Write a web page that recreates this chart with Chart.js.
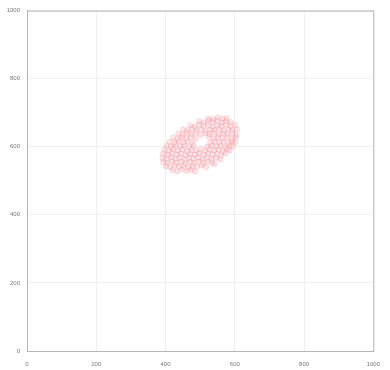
<!DOCTYPE html>
<html>
<head>
<meta charset="utf-8">
<script src="https://cdn.jsdelivr.net/npm/chart.js@4/dist/chart.umd.min.js"></script>
<style>
  html, body { margin: 0; padding: 0; background: #fff; }
  #wrap { width: 390px; height: 370px; }
</style>
</head>
<body>
<div id="wrap"><canvas id="grafico" width="390" height="370"></canvas></div>
<script>
// ticks of both axes
const tickValues = [0, 200, 400, 600, 800, 1000];

// points, row by row (x, y)
const pontosX = [
  420, 433, 447, 461, 474, 485,
  401, 414, 426, 439, 452, 466, 478, 491, 504, 517,
  393, 405, 418, 431, 444, 457, 470, 483, 496, 509, 522, 535, 541,
  391, 403, 416, 429, 442, 455, 468, 481, 494, 507, 520, 533, 546, 558,
  393, 406, 419, 432, 445, 458, 471, 484, 497, 510, 523, 536, 549, 561, 572,
  397, 410, 423, 436, 449, 462, 475, 488, 501, 514, 527, 540, 553, 566, 578, 585,
  403, 416, 429, 442, 455, 468, 481, 520, 533, 546, 559, 572, 585, 594,
  412, 425, 438, 451, 464, 477, 529, 542, 555, 568, 581, 593, 601,
  422, 435, 448, 461, 474, 487, 526, 539, 552, 565, 578, 591, 603,
  436, 449, 462, 475, 488, 501, 514, 527, 540, 553, 566, 579, 592, 604,
  451, 464, 477, 490, 503, 516, 529, 542, 555, 568, 581, 594, 606,
  471, 484, 497, 510, 523, 536, 549, 562, 575, 588, 601,
  497, 510, 523, 536, 549, 562, 575, 588,
  525, 538, 551, 564, 576
];
const pontosY = [
  531, 528, 533, 529, 532, 527,
  543, 540, 545, 541, 544, 539, 543, 541, 545, 540,
  555, 552, 557, 553, 556, 551, 555, 553, 557, 552, 556, 553, 549,
  567, 564, 569, 565, 568, 563, 567, 565, 569, 564, 568, 565, 567, 563,
  579, 576, 581, 577, 580, 575, 579, 577, 581, 576, 580, 577, 579, 575, 580,
  591, 588, 593, 589, 592, 587, 591, 589, 593, 588, 592, 589, 591, 587, 592, 589,
  603, 600, 605, 601, 604, 599, 603, 600, 604, 601, 603, 599, 604, 601,
  615, 612, 617, 613, 616, 611, 612, 616, 613, 615, 611, 616, 613,
  627, 624, 629, 625, 628, 623, 629, 624, 628, 625, 627, 623, 628,
  639, 636, 641, 637, 640, 635, 639, 637, 641, 636, 640, 637, 639, 635,
  651, 648, 653, 649, 652, 647, 651, 649, 653, 648, 652, 649, 651,
  663, 660, 665, 661, 664, 659, 663, 661, 665, 660, 664,
  675, 672, 677, 673, 676, 671, 675, 673,
  683, 681, 686, 682, 684
];

const boxPlugin = {
  id: "box",
  afterDraw(chart) {
    const a = chart.chartArea;
    const ctx = chart.ctx;
    ctx.save();
    ctx.strokeStyle = "#b5b5b5";
    ctx.lineWidth = 1;
    ctx.strokeRect(a.left + 0.5, a.top + 0.5, a.right - a.left, a.bottom - a.top);
    ctx.restore();
  }
};

const labelFont = { family: "Liberation Sans", size: 6 };

new Chart(document.getElementById("grafico").getContext("2d"), {
  type: "scatter",
  data: {
    datasets: [{
      data: pontosX.map((x, i) => ({ x: x, y: pontosY[i] })),
      backgroundColor: "rgba(245,140,150,0.22)",
      borderColor: "rgba(240,120,130,0.22)",
      borderWidth: 1,
      pointRadius: 2.6,
    }]
  },
  options: {
    responsive: false,
    animation: false,
    layout: { padding: { left: 0, right: 6, top: 5, bottom: 0 } },
    plugins: { legend: { display: false }, tooltip: { enabled: false } },
    scales: {
      x: {
        type: "linear", min: 0, max: 1000,
        afterBuildTicks: s => { s.ticks = tickValues.map(v => ({ value: v })); },
        afterFit: s => { s.height = 19; },
        ticks: { color: "#777", font: labelFont, padding: 10, maxRotation: 0, callback: v => String(v) },
        grid: { color: "#f0f0f0", drawTicks: false },
        border: { color: "#b5b5b5" }
      },
      y: {
        type: "linear", min: 0, max: 1000,
        afterBuildTicks: s => { s.ticks = tickValues.map(v => ({ value: v })); },
        afterFit: s => { s.width = 27; },
        ticks: { color: "#777", font: labelFont, padding: 7, callback: v => String(v) },
        grid: { color: "#f0f0f0", drawTicks: false },
        border: { color: "#b5b5b5" }
      }
    }
  },
  plugins: [boxPlugin]
});
</script>
</body>
</html>
